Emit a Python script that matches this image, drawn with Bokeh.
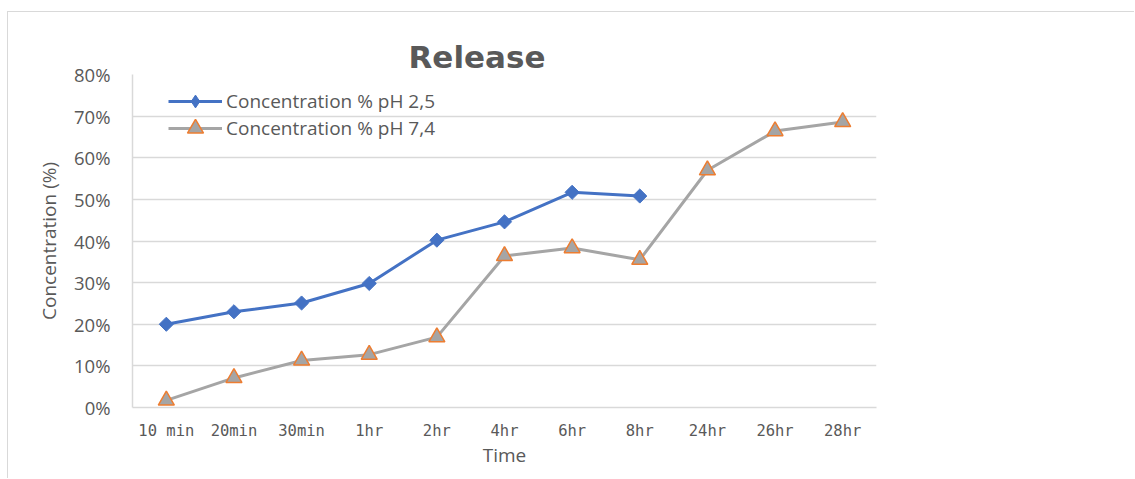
import math
from bokeh.plotting import figure
from bokeh.models import FactorRange, Range1d, NumeralTickFormatter, FixedTicker, Legend, LegendItem
from bokeh.embed import file_html
from bokeh.resources import INLINE

# ---- data ----
categories = ["10 min", "20min", "30min", "1hr", "2hr", "4hr", "6hr", "8hr", "24hr", "26hr", "28hr"]
ph25_values = [0.200, 0.230, 0.251, 0.298, 0.402, 0.446, 0.517, 0.508]
ph74_values = [0.017, 0.071, 0.113, 0.127, 0.169, 0.364, 0.383, 0.355, 0.570, 0.664, 0.686]
y_ticks = [0.0, 0.1, 0.2, 0.3, 0.4, 0.5, 0.6, 0.7, 0.8]
series_names = ["Concentration % pH 2,5", "Concentration % pH 7,4"]

TEXT = "#595959"
GRID = "#D9D9D9"
BLUE = "#4472C4"
GRAY = "#A5A5A5"
ORANGE = "#ED7D31"
FONT = "Open Sans"

p = figure(
    width=1127, height=467,
    x_range=FactorRange(factors=categories),
    y_range=Range1d(0, 0.8),
    output_backend="svg", toolbar_location=None,
    min_border_left=124, min_border_right=259,
    min_border_top=62, min_border_bottom=72,
)
p.styles = {
    "margin-left": "7px", "margin-top": "11px",
    "border-left": "1px solid #d9d9d9", "border-top": "1px solid #d9d9d9",
}
p.outline_line_color = None
p.background_fill_color = "white"
p.border_fill_color = "white"

# title
p.title.text = "Release"
p.title.text_font = "DejaVu Sans"
p.title.text_font_size = "31px"
p.title.text_font_style = "bold"
p.title.text_color = TEXT
p.title.align = "left"
p.title.offset = 276
p.title.standoff = 0

# grids
p.xgrid.grid_line_color = None
p.ygrid.grid_line_color = GRID
p.ygrid.grid_line_width = 1.5

# y axis
p.yaxis.ticker = FixedTicker(ticks=y_ticks)
p.yaxis.formatter = NumeralTickFormatter(format="0%")
p.yaxis.axis_line_color = GRID
p.yaxis.axis_line_width = 1.5
p.yaxis.major_tick_line_color = None
p.yaxis.minor_tick_line_color = None
p.yaxis.major_label_text_font = FONT
p.yaxis.major_label_text_font_size = "18.5px"
p.yaxis.major_label_text_color = TEXT
p.yaxis.major_label_standoff = 16
p.yaxis.axis_label = "Concentration (%)"
p.yaxis.axis_label_text_font = FONT
p.yaxis.axis_label_text_font_size = "19px"
p.yaxis.axis_label_text_font_style = "normal"
p.yaxis.axis_label_text_color = TEXT
p.yaxis.axis_label_standoff = 9

# x axis
p.xaxis.axis_line_color = GRID
p.xaxis.axis_line_width = 1.5
p.xaxis.major_tick_line_color = None
p.xaxis.minor_tick_line_color = None
p.xaxis.major_label_text_font = "DejaVu Sans Mono"
p.xaxis.major_label_text_font_size = "15.5px"
p.xaxis.major_label_text_color = TEXT
p.xaxis.major_label_standoff = 8
p.xaxis.axis_label = "Time"
p.xaxis.axis_label_text_font = FONT
p.xaxis.axis_label_text_font_size = "19px"
p.xaxis.axis_label_text_font_style = "normal"
p.xaxis.axis_label_text_color = TEXT
p.xaxis.axis_label_standoff = -1

# series
x25 = categories[:len(ph25_values)]
l1 = p.line(x25, ph25_values, line_color=BLUE, line_width=3)
# diamond under the rotated squares: hidden in the plot, used for the legend swatch
d1 = p.scatter(x25, ph25_values, marker="diamond", size=9,
               fill_color=BLUE, line_color=BLUE)
m1 = p.scatter(x25, ph25_values, marker="square", angle=math.pi / 4, size=10,
               fill_color=BLUE, line_color=BLUE)

l2 = p.line(categories, ph74_values, line_color=GRAY, line_width=3)
m2 = p.scatter(categories, ph74_values, marker="triangle", size=16,
               fill_color=GRAY, line_color=ORANGE, line_width=1.5)

common = dict(padding=0, margin=0, spacing=0, glyph_width=54, label_standoff=4,
              label_text_font=FONT, label_text_font_size="19px", label_text_color=TEXT,
              background_fill_alpha=0, border_line_color=None)

legend1 = Legend(items=[LegendItem(label=series_names[0], renderers=[l1, d1])],
                 location=(36, 290), glyph_height=32, **common)
legend2 = Legend(items=[LegendItem(label=series_names[1], renderers=[l2, m2])],
                 location=(36, 259), glyph_height=40, **common)
p.add_layout(legend1)
p.add_layout(legend2)

open("out.html", "w").write(file_html(p, INLINE))
